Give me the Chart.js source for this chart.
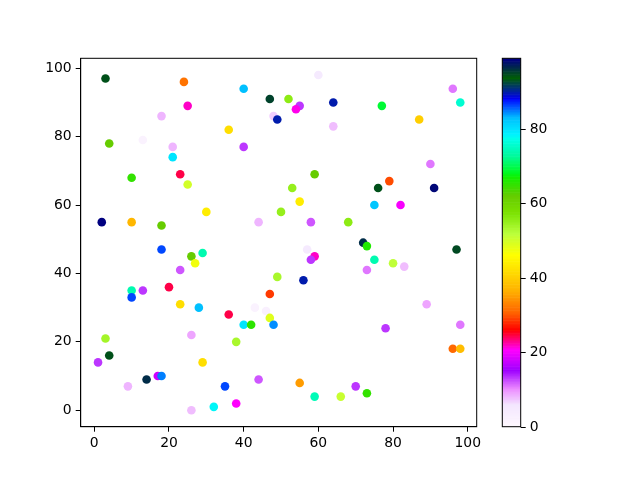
<!DOCTYPE html>
<html><head><meta charset="utf-8">
<script src="https://cdn.jsdelivr.net/npm/chart.js@4"></script>
<style>html,body{margin:0;padding:0;background:#fff}canvas{display:block}</style>
</head><body>
<canvas id="c" width="640" height="480"></canvas>
<script>
const xValues = [3,24,25,18,4,13,21,21,23,10,25,60,40,47,52,55,54,64,48,49,64,36,40,59,96,98,77,87,90,79,30,2,10,18,18,29,26,27,23,20,10,13,10,53,55,50,44,58,68,57,59,58,49,56,47,76,91,75,82,72,73,97,75,80,83,73,89,23,28,26,3,29,4,1,14,17,18,9,26,32,36,43,46,47,40,42,48,38,44,55,35,59,66,38,98,78,96,98,70,73];
const yValues = [97,96,89,86,78,79,77,74,69,68,66,98,94,91,91,89,88,90,86,85,83,82,77,69,94,90,89,85,72,67,58,55,55,54,47,46,45,43,41,36,35,35,33,65,61,58,55,55,55,47,45,44,39,38,34,65,65,60,60,49,48,47,44,43,42,41,31,31,30,22,21,14,16,14,9,10,10,7,0,1,28,30,29,27,25,25,25,20,9,8,7,4,4,2,25,24,18,18,7,5];
const cValues = [94.5,32,21.7,8.5,62,2,8.5,80,24.5,65,50,5,83,95.5,56,13.5,21,90,7,90,8,42,13.5,62,11,76,69,40,11,29.5,44,99,37.5,62,86.5,74,62,47.5,12,24.5,74,13.5,86.5,55,44,55,8.5,12,56,5,22,13.5,53.5,90,29,94.5,98.5,82.5,20.3,96.5,66.5,95,74,51.5,8,11,9,42,83,9,54,42,94.5,13.5,96.5,18,85,8.5,8,78.5,24.5,2,3,49,80,65.5,84.5,53.5,12,35,86.5,74.5,51,20.5,11,13.5,31,38,13.5,65];
const xTicks = [0,20,40,60,80,100];
const yTicks = [0,20,40,60,80,100];
const cTicks = [0,20,40,60,80];
const cMin = 0, cMax = 99;

// gist_ncar, used reversed
const NCAR = {
  r: [[0,0],[0.3098,0],[0.3725,0.3993],[0.4235,0.5003],[0.5333,1],[0.7922,1],[0.8471,0.6218],[0.898,0.9235],[1,0.9961]],
  g: [[0,0],[0.051,0.3722],[0.1059,0],[0.1569,0.7202],[0.1608,0.7537],[0.1647,0.7752],[0.2157,1],[0.2588,0.9804],[0.3059,0.9804],[0.3725,0.80],[0.4235,0.8971],[0.4745,1],[0.5333,1],[0.5804,0.86],[0.6314,0.69],[0.6902,0.39],[0.7373,0],[0.8471,0],[0.898,0.549],[0.9412,0.902],[1,0.9725]],
  b: [[0,0.502],[0.051,0.0222],[0.1098,1],[0.2039,1],[0.2627,0.6145],[0.3216,0],[0.4157,0],[0.4745,0.2342],[0.5333,0],[0.7373,0],[0.7922,0.9961],[0.8471,1],[0.898,1],[0.9412,0.9961],[1,0.9961]]
};
function seg(arr, t){
  for (let i=1;i<arr.length;i++){
    if (t <= arr[i][0]){
      const [t0,v0]=arr[i-1],[t1,v1]=arr[i];
      return v0 + (v1-v0)*(t-t0)/(t1-t0);
    }
  }
  return arr[arr.length-1][1];
}
function cmap(v){
  let f = (v - cMin)/(cMax - cMin);
  f = Math.min(1, Math.max(0, f));
  f = Math.min(255, Math.floor(f*256))/255;
  const t = 1 - f;
  const r = Math.round(seg(NCAR.r,t)*255), g = Math.round(seg(NCAR.g,t)*255), b = Math.round(seg(NCAR.b,t)*255);
  return `rgb(${r},${g},${b})`;
}

const points = xValues.map((x,i)=>({x, y:yValues[i]}));
const colors = cValues.map(cmap);

const FS = 13.9;
Chart.defaults.font.family = "'DejaVu Sans', sans-serif";
Chart.defaults.font.size = FS;
Chart.defaults.color = '#000';

const framePlugin = {
  id: 'frame',
  afterDraw(chart){
    const ctx = chart.ctx, a = chart.chartArea, cb = chart.scales.cb;
    ctx.save();
    ctx.strokeStyle = '#000'; ctx.lineWidth = 1;
    ctx.strokeRect(a.left, a.top, a.right - a.left, a.bottom - a.top);
    // colorbar
    const x0 = a.right + 25.6, w = 18.4;
    const N = 256;
    for (let i=0;i<N;i++){
      const v0 = cMin + (cMax-cMin)*i/N, v1 = cMin + (cMax-cMin)*(i+1)/N;
      const p0 = cb.getPixelForValue(v0), p1 = cb.getPixelForValue(v1);
      ctx.fillStyle = cmap((v0+v1)/2);
      ctx.fillRect(x0, p1, w, p0 - p1 + 0.6);
    }
    ctx.strokeRect(x0, cb.getPixelForValue(cMax), w, cb.getPixelForValue(cMin) - cb.getPixelForValue(cMax));
    ctx.fillStyle = '#000';
    ctx.font = `${FS}px 'DejaVu Sans', sans-serif`;
    ctx.textAlign = 'left'; ctx.textBaseline = 'middle';
    cTicks.forEach(v=>{
      const p = Math.round(cb.getPixelForValue(v)) + 0.5;
      ctx.beginPath(); ctx.moveTo(x0 + w, p); ctx.lineTo(x0 + w + 5, p); ctx.stroke();
      ctx.fillText(String(v), x0 + w + 9, p);
    });
    ctx.restore();
  }
};

new Chart(document.getElementById('c'), {
  type: 'scatter',
  data: { datasets: [{ data: points, backgroundColor: colors, borderWidth: 0, pointRadius: 4.3, pointHoverRadius: 4.3 }] },
  options: {
    responsive: false, animation: false, devicePixelRatio: 1,
    layout: { padding: { left: 0, top: 58.3, right: 163.3, bottom: 0 } },
    plugins: { legend: { display: false }, tooltip: { enabled: false } },
    scales: {
      x: {
        type: 'linear', min: -3.64, max: 102.4,
        afterBuildTicks: s => { s.ticks = xTicks.map(v => ({ value: v })); },
        afterFit: s => { s.height = 53.3; },
        ticks: { padding: 3, maxRotation: 0, autoSkip: false, color: '#000' },
        grid: { drawOnChartArea: false, tickLength: 5, color: '#000', tickWidth: 1 },
        border: { display: true, color: '#000', width: 1 }
      },
      y: {
        type: 'linear', min: -4.8, max: 102.9,
        afterBuildTicks: s => { s.ticks = yTicks.map(v => ({ value: v })); },
        afterFit: s => { s.width = 80.7; },
        ticks: { padding: 4, autoSkip: false, color: '#000' },
        grid: { drawOnChartArea: false, tickLength: 5, color: '#000', tickWidth: 1 },
        border: { display: true, color: '#000', width: 1 }
      },
      cb: { type: 'linear', axis: 'y', position: 'right', display: false, min: cMin, max: cMax }
    }
  },
  plugins: [framePlugin]
});
</script>
</body></html>
